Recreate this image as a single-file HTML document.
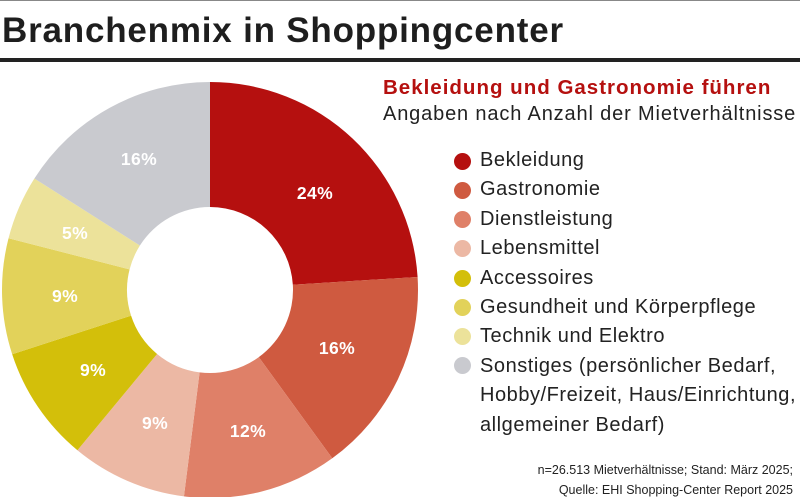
<!DOCTYPE html>
<html><head><meta charset="utf-8"><style>
body{margin:0;width:800px;height:497px;overflow:hidden;background:#fff;font-family:"Liberation Sans",Arial,sans-serif;color:#222;position:relative}
.t{position:absolute;white-space:nowrap}
.lg{position:absolute;left:480px;font-size:20px;color:#222;line-height:29.4px;letter-spacing:0.55px;white-space:nowrap}
.dot{position:absolute;left:454px;width:17px;height:17px;border-radius:50%}
</style></head><body>
<div style="position:absolute;left:0;top:0;width:800px;height:1px;background:#888"></div>
<div class="t" style="left:2px;top:11px;font-size:35px;font-weight:bold;color:#1e1e1e;letter-spacing:0.8px">Branchenmix in Shoppingcenter</div>
<div style="position:absolute;left:0;top:58px;width:800px;height:4px;background:#222"></div>
<div class="t" style="left:383px;top:76px;font-size:20.5px;font-weight:bold;color:#b5100f;letter-spacing:1px">Bekleidung und Gastronomie führen</div>
<div class="t" style="left:383px;top:103px;font-size:20px;color:#222;letter-spacing:0.85px">Angaben nach Anzahl der Mietverhältnisse</div>
<svg id="s" width="800" height="497" style="position:absolute;left:0;top:0"></svg>
<div class="dot" style="top:153px;background:#b5100f"></div>
<div class="dot" style="top:182px;background:#cf5a40"></div>
<div class="dot" style="top:211px;background:#df8068"></div>
<div class="dot" style="top:240px;background:#ecb8a4"></div>
<div class="dot" style="top:270px;background:#d3bf0a"></div>
<div class="dot" style="top:299px;background:#e2d25a"></div>
<div class="dot" style="top:328px;background:#ece29a"></div>
<div class="dot" style="top:357px;background:#c9cacf"></div>
<div class="lg" style="top:146px">Bekleidung<br>Gastronomie<br>Dienstleistung<br>Lebensmittel<br>Accessoires<br>Gesundheit und Körperpflege<br>Technik und Elektro<br>Sonstiges (persönlicher Bedarf,<br>Hobby/Freizeit, Haus/Einrichtung,<br>allgemeiner Bedarf)</div>
<div class="t" style="right:7px;top:460px;font-size:12.5px;text-align:right;line-height:20px">n=26.513 Mietverhältnisse; Stand: März 2025;<br>Quelle: EHI Shopping-Center Report 2025</div>
<script>
var v=[24,16,12,9,9,9,5,16],c=["#b5100f","#cf5a40","#df8068","#ecb8a4","#d3bf0a","#e2d25a","#ece29a","#c9cacf"],
L=[[315,193],[337,348],[248,431],[155,423],[93,370],[65,296],[75,233],[139,159]];
var cx=210,cy=290,R=208,r=83,a=0,h="";
function p(rad,an){return (cx+rad*Math.sin(an)).toFixed(2)+","+(cy-rad*Math.cos(an)).toFixed(2)}
for(var i=0;i<8;i++){var b=a+v[i]/100*2*Math.PI,lg=(b-a)>Math.PI?1:0;
h+='<path fill="'+c[i]+'" d="M'+p(R,a)+'A'+R+','+R+' 0 '+lg+' 1 '+p(R,b)+'L'+p(r,b)+'A'+r+','+r+' 0 '+lg+' 0 '+p(r,a)+'Z"/>';a=b;}
for(i=0;i<8;i++)h+='<text x="'+L[i][0]+'" y="'+(L[i][1]+6)+'" text-anchor="middle" font-family="Liberation Sans,Arial,sans-serif" font-weight="bold" font-size="17.5" letter-spacing="0.4" fill="#fff">'+v[i]+'%</text>';
document.getElementById("s").innerHTML=h;
</script>
</body></html>
